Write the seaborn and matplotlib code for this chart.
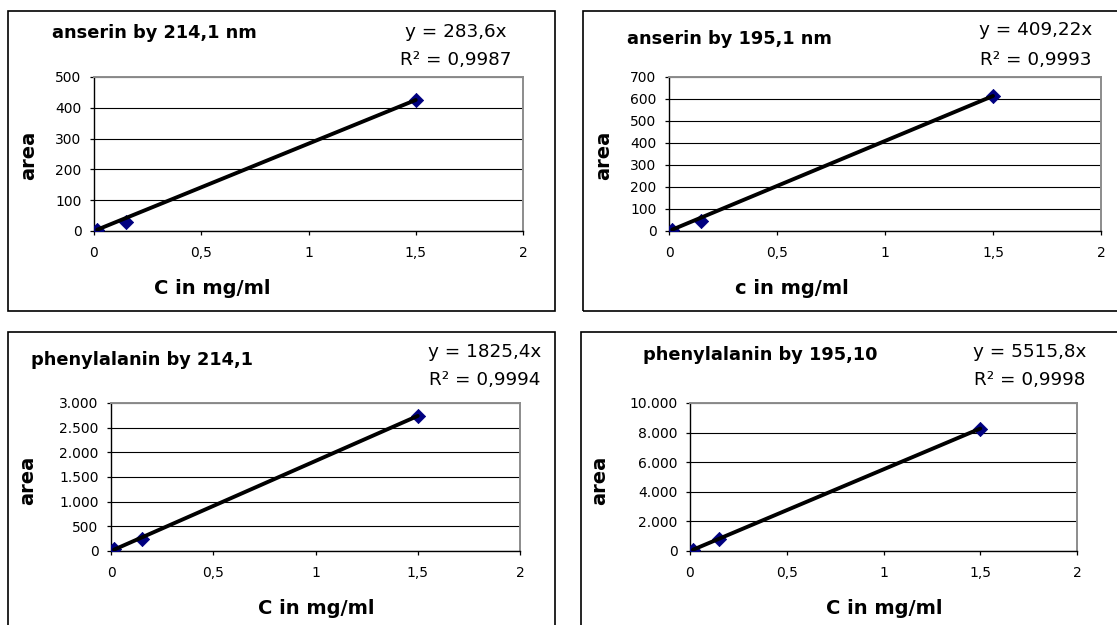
import matplotlib
matplotlib.use("Agg")
import matplotlib.pyplot as plt
from matplotlib.patches import Rectangle
from matplotlib.ticker import FixedLocator, FixedFormatter
import seaborn as sns
import pandas as pd

# ---- calibration data -------------------------------------------------------
conc = [0.015, 0.15, 1.5]  # mg/ml

area_anserin_214 = [4, 30, 426]
area_anserin_195 = [6, 47, 615]
area_phe_214 = [40, 243, 2741]
area_phe_195 = [90, 800, 8270]

slopes = [283.6, 409.22, 1825.4, 5515.8]
slope_labels = ["y = 283,6x", "y = 409,22x", "y = 1825,4x", "y = 5515,8x"]
r2_labels = ["R² = 0,9987", "R² = 0,9993", "R² = 0,9994", "R² = 0,9998"]

titles = ["anserin by 214,1 nm", "anserin by 195,1 nm",
          "phenylalanin by 214,1", "phenylalanin by 195,10"]
xlabels = ["C in mg/ml", "c in mg/ml", "C in mg/ml", "C in mg/ml"]
ylabel = "area"

xticks = [0, 0.5, 1, 1.5, 2]
xtick_labels = ["0", "0,5", "1", "1,5", "2"]

yticks = [
    [0, 100, 200, 300, 400, 500],
    [0, 100, 200, 300, 400, 500, 600, 700],
    [0, 500, 1000, 1500, 2000, 2500, 3000],
    [0, 2000, 4000, 6000, 8000, 10000],
]
ytick_labels = [
    ["0", "100", "200", "300", "400", "500"],
    ["0", "100", "200", "300", "400", "500", "600", "700"],
    ["0", "500", "1.000", "1.500", "2.000", "2.500", "3.000"],
    ["0", "2.000", "4.000", "6.000", "8.000", "10.000"],
]

series = [area_anserin_214, area_anserin_195, area_phe_214, area_phe_195]

# ---- layout (pixel positions on a 1117 x 625 canvas) -------------------------
W, H = 1117, 625
axes_px = [(94, 77, 523, 231), (669, 77, 1101, 231),
           (111, 403, 520, 551), (690, 403, 1077, 551)]
frames_px = [(7.5, 11, 555, 311.5), (583, 11, 1135, 311.5),
             (7.5, 332, 555, 640), (580.5, 332, 1135, 640)]
title_px = [(52, 33), (627, 39), (31, 360), (643, 355)]
eq_px = [(456, 32, 60), (1036, 30, 60), (485, 352, 380), (1030, 352, 380)]
ylab_px = [(29, 155), (604, 155), (28, 480), (600, 480)]
xlab_px = [(212, 288), (792, 288), (316, 608), (884, 608)]

sns.set_theme(style="white")
plt.rcParams["font.family"] = ["DejaVu Sans"]
plt.rcParams["text.color"] = "black"
plt.rcParams["axes.labelcolor"] = "black"
plt.rcParams["xtick.color"] = "black"
plt.rcParams["ytick.color"] = "black"


def fx(x):
    return x / W


def fy(y):
    return 1 - y / H


fig = plt.figure(figsize=(W / 100, H / 100), dpi=100)
fig.patch.set_facecolor("white")

for i in range(4):
    # chart frame
    l, t, r, b = frames_px[i]
    fig.patches.append(Rectangle((fx(l), fy(b)), fx(r - l), (b - t) / H,
                                 transform=fig.transFigure, fill=False,
                                 edgecolor="black", linewidth=1.2, zorder=0))

    l, t, r, b = axes_px[i]
    ax = fig.add_axes([fx(l), fy(b), fx(r - l), (b - t) / H])
    ax.set_facecolor("white")

    df = pd.DataFrame({"conc": conc, "area": series[i]})
    sns.scatterplot(data=df, x="conc", y="area", ax=ax, marker="D", s=52,
                    color="#000080", edgecolor="#000080", linewidth=0.6,
                    zorder=3, legend=False)

    fit = pd.DataFrame({"conc": [min(conc), max(conc)]})
    fit["area"] = slopes[i] * fit["conc"]
    sns.lineplot(data=fit, x="conc", y="area", ax=ax, color="black",
                 linewidth=2.8, zorder=4, legend=False)

    ax.set_xlim(0, 2)
    ax.set_ylim(0, yticks[i][-1])
    ax.xaxis.set_major_locator(FixedLocator(xticks))
    ax.xaxis.set_major_formatter(FixedFormatter(xtick_labels))
    ax.yaxis.set_major_locator(FixedLocator(yticks[i]))
    ax.yaxis.set_major_formatter(FixedFormatter(ytick_labels[i]))

    ax.set_axisbelow(True)
    ax.grid(axis="y", color="black", linewidth=0.8)
    ax.grid(axis="x", visible=False)

    for side in ("left", "bottom"):
        ax.spines[side].set_color("black")
        ax.spines[side].set_linewidth(1.0)
    for side in ("top", "right"):
        ax.spines[side].set_color("#8c8c8c")
        ax.spines[side].set_linewidth(1.4)

    ax.tick_params(axis="both", which="major", direction="out", length=3,
                   width=0.9, color="black", labelsize=10, labelcolor="black",
                   bottom=True, left=True)
    ax.tick_params(axis="y", pad=6)
    ax.tick_params(axis="x", pad=8)

    ax.set_xlabel(xlabels[i], fontsize=14, fontweight="bold", color="black")
    ax.xaxis.set_label_coords(fx(xlab_px[i][0]), fy(xlab_px[i][1]),
                              transform=fig.transFigure)
    ax.xaxis.label.set_verticalalignment("center")
    ax.set_ylabel(ylabel, fontsize=14, fontweight="bold", color="black")
    ax.yaxis.set_label_coords(fx(ylab_px[i][0]), fy(ylab_px[i][1]),
                              transform=fig.transFigure)
    ax.yaxis.label.set_verticalalignment("center")

    fig.text(fx(title_px[i][0]), fy(title_px[i][1]), titles[i],
             fontsize=12.8, fontweight="bold", ha="left", va="center",
             color="black")
    ex, ey1, ey2 = eq_px[i]
    fig.text(fx(ex), fy(ey1), slope_labels[i], fontsize=13.2,
             ha="center", va="center", color="black")
    fig.text(fx(ex), fy(ey2), r2_labels[i], fontsize=13.2,
             ha="center", va="center", color="black")

fig.savefig("out.png", dpi=100, facecolor="white")
